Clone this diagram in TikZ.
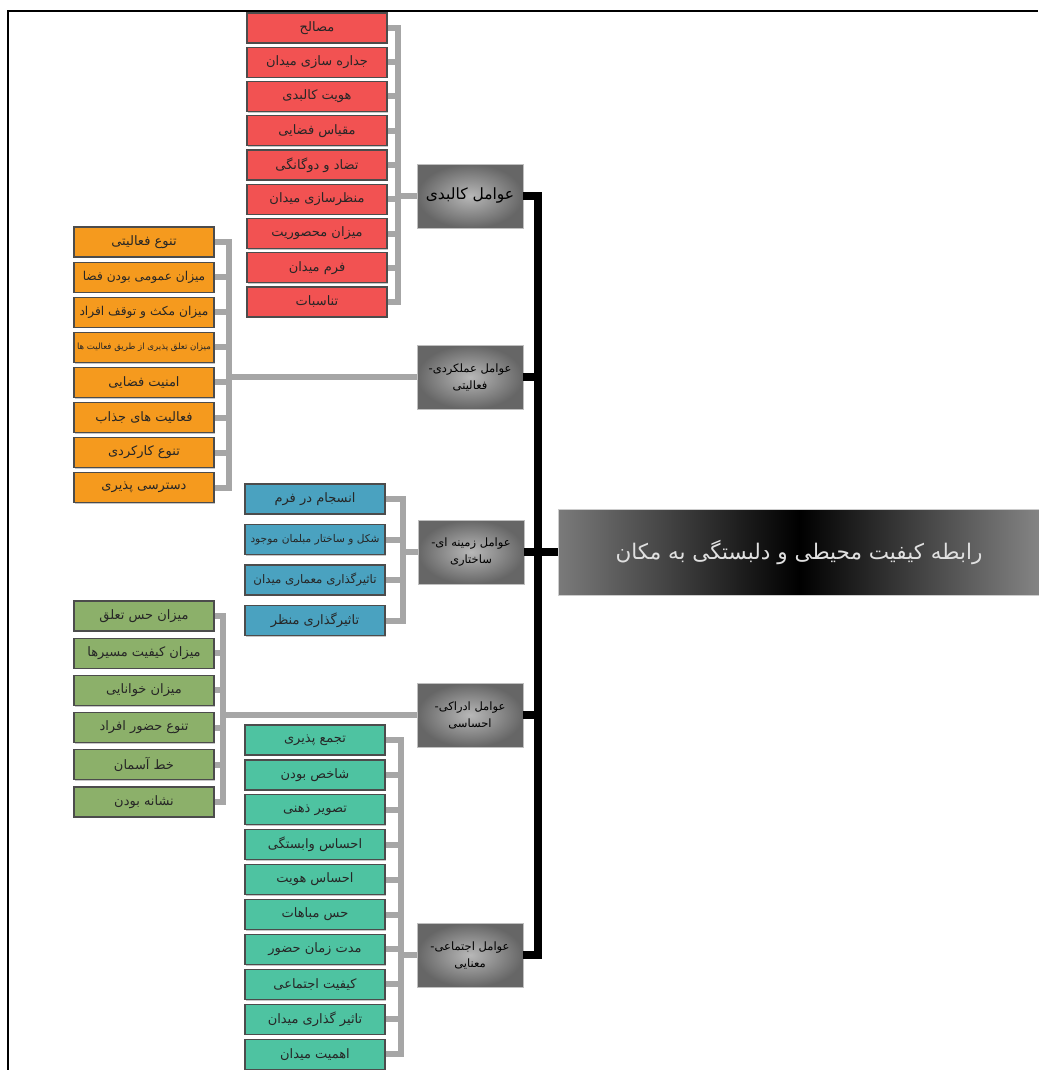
\documentclass[tikz,border=0pt]{standalone}
\usepackage{fontspec}
\usetikzlibrary{shadows}
\newfontfamily\arabicfont[Script=Arabic]{DejaVu Sans}
\TeXXeTstate=1
\definecolor{physred}{HTML}{F25252}
\definecolor{actorange}{HTML}{F59A1E}
\definecolor{ctxblue}{HTML}{4AA2C0}
\definecolor{percgreen}{HTML}{8CB06A}
\definecolor{socteal}{HTML}{4EC3A1}
\newcommand{\fa}[1]{\beginR#1\endR}

\begin{document}
\begin{tikzpicture}[x=1pt,y=-1pt]
 \tikzstyle{item} = [draw=black!70,line width=1.2pt,minimum width=140pt,minimum height=30pt,inner sep=0pt,text=black!85,font=\arabicfont\fontsize{13}{15}\selectfont,drop shadow={shadow xshift=1.2pt,shadow yshift=-1.2pt,opacity=0.45}]
 \tikzstyle{factor} = [draw=gray!50,minimum width=106pt,minimum height=64pt,inner sep=1pt,align=center,inner color=black!28,outer color=black!60,font=\arabicfont\fontsize{11.5}{17}\selectfont]
 \tikzstyle{brace} = [draw=gray!70,line width=6pt]
 \tikzstyle{spine} = [draw=black,line width=8pt]
 \useasboundingbox (0,0) rectangle (1038,1070);
 \draw[line width=1.5pt] (8,1070) |- (1038,11);

 \node[factor,font=\arabicfont\fontsize{15.5}{18}\selectfont] (f1) at (470,196) {\fa{عوامل کالبدی}};
 \node[factor] (f2) at (470,377) {\fa{عوامل عملکردی-}\\\fa{فعالیتی}};
 \node[factor] (f3) at (471,552) {\fa{عوامل زمینه ای-}\\\fa{ساختاری}};
 \node[factor] (f4) at (470,715) {\fa{عوامل ادراکی-}\\\fa{احساسی}};
 \node[factor] (f5) at (470,955) {\fa{عوامل اجتماعی-}\\\fa{معنایی}};
 \node[draw=gray!40,minimum width=482pt,minimum height=86pt,left color=black!52,right color=black!48,middle color=black,text=white!88!black,font=\arabicfont\fontsize{21.5}{24}\selectfont] (main) at (799,552) {\fa{رابطه کیفیت محیطی و دلبستگی به مکان}};

 \foreach \lbl [count=\i] in {مصالح,جداره سازی میدان,هویت کالبدی,مقیاس فضایی,تضاد و دوگانگی,منظرسازی میدان,میزان محصوریت,فرم میدان,تناسبات}
  \node[item,fill=physred] (r\i) at (317,{28+34.25*(\i-1)}) {\fa{\lbl}};
 \foreach \lbl [count=\i] in {تنوع فعالیتی,\fontsize{12.2}{14}\selectfont میزان عمومی بودن فضا,\fontsize{12.2}{14}\selectfont میزان مکث و توقف افراد,\fontsize{8.6}{10}\selectfont میزان تعلق پذیری از طریق فعالیت ها,امنیت فضایی,فعالیت های جذاب,تنوع کارکردی,دسترسی پذیری}
  \node[item,fill=actorange] (o\i) at (144,{242+35.1*(\i-1)}) {\fa{\lbl}};
 \foreach \lbl [count=\i] in {انسجام در فرم,\fontsize{10.6}{12}\selectfont شکل و ساختار مبلمان موجود,\fontsize{11.8}{14}\selectfont تاثیرگذاری معماری میدان,تاثیرگذاری منظر}
  \node[item,fill=ctxblue] (b\i) at (315,{499+40.5*(\i-1)}) {\fa{\lbl}};
 \foreach \lbl [count=\i] in {میزان حس تعلق,میزان کیفیت مسیرها,میزان خوانایی,تنوع حضور افراد,خط آسمان,نشانه بودن}
  \node[item,fill=percgreen] (g\i) at (144,{616+37.2*(\i-1)}) {\fa{\lbl}};
 \foreach \lbl [count=\i] in {تجمع پذیری,شاخص بودن,تصویر ذهنی,احساس وابستگی,احساس هویت,حس مباهات,مدت زمان حضور,کیفیت اجتماعی,تاثیر گذاری میدان,اهمیت میدان}
  \node[item,fill=socteal] (t\i) at (315,{740+34.9*(\i-1)}) {\fa{\lbl}};

 \coordinate (rb) at (398,0);
 \coordinate (ob) at (229,0);
 \coordinate (bb) at (403,0);
 \coordinate (gb) at (223,0);
 \coordinate (tb) at (401,0);
 \foreach \i in {1,...,9} \draw[brace] (r\i.east) -- (r\i.east -| rb);
 \draw[brace,line cap=rect] (r1.east -| rb) -- (r9.east -| rb);
 \draw[brace] (f1.west -| rb) -- (f1.west);
 \foreach \i in {1,...,8} \draw[brace] (o\i.east) -- (o\i.east -| ob);
 \draw[brace,line cap=rect] (o1.east -| ob) -- (o8.east -| ob);
 \draw[brace] (f2.west -| ob) -- (f2.west);
 \foreach \i in {1,...,4} \draw[brace] (b\i.east) -- (b\i.east -| bb);
 \draw[brace,line cap=rect] (b1.east -| bb) -- (b4.east -| bb);
 \draw[brace] (f3.west -| bb) -- (f3.west);
 \foreach \i in {1,...,6} \draw[brace] (g\i.east) -- (g\i.east -| gb);
 \draw[brace,line cap=rect] (g1.east -| gb) -- (g6.east -| gb);
 \draw[brace] (f4.west -| gb) -- (f4.west);
 \foreach \i in {1,...,10} \draw[brace] (t\i.east) -- (t\i.east -| tb);
 \draw[brace,line cap=rect] (t1.east -| tb) -- (t10.east -| tb);
 \draw[brace] (f5.west -| tb) -- (f5.west);

 \coordinate (sp) at (538,0);
 \foreach \i in {1,...,5} \draw[spine] (f\i.east) -- (f\i.east -| sp);
 \draw[spine,line cap=rect] (f1.east -| sp) -- (f5.east -| sp);
 \draw[spine] (main.west -| sp) -- (main.west);
\end{tikzpicture}
\end{document}
